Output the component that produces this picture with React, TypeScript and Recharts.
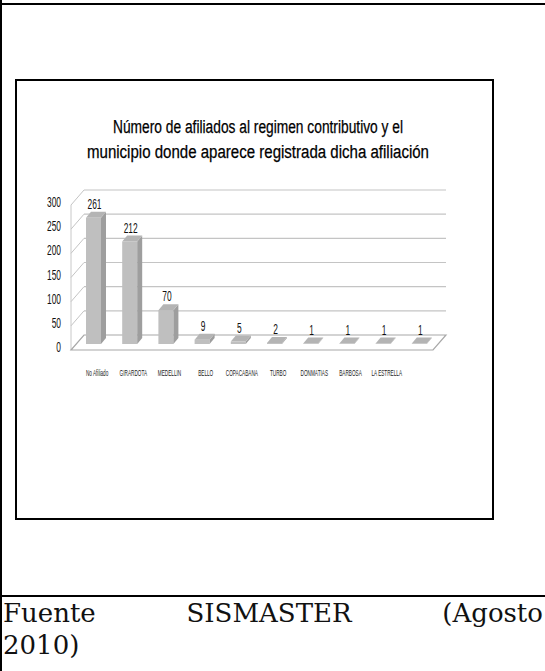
import React from 'react';
import { BarChart, Bar, XAxis, YAxis, CartesianGrid, LabelList } from 'recharts';

const categories = ['No Afiliado', 'GIRARDOTA', 'MEDELLIN', 'BELLO', 'COPACABANA', 'TURBO', 'DONMATIAS', 'BARBOSA', 'LA ESTRELLA', ''];
const afiliados = [261, 212, 70, 9, 5, 2, 1, 1, 1, 1];
const yTicks = [0, 50, 100, 150, 200, 250, 300];
const titleLines = [
  'Número de afiliados al regimen contributivo y el',
  'municipio donde aparece registrada dicha afiliación',
];
const footerWords = ['Fuente', 'SISMASTER', '(Agosto'];
const footerLine2 = '2010)';

const data = categories.map((c, i) => ({ municipio: c, afiliados: afiliados[i] }));

const CHART_W = 545;
const CHART_H = 600;
const PLOT_LEFT = 71;
const PLOT_TOP = 205;
const PLOT_BOTTOM = 350;
const PLOT_RIGHT = 433;
const Y_AXIS_W = 30;
const X_AXIS_H = 30;

const DX = 13; // wall depth
const DY = -15;
const BX = 4; // bar front offset
const BY = -6;
const BDX = 5; // bar depth
const BDY = -6;

const NARROW = '"Liberation Sans", Arial, sans-serif';

const GridLine = (props: any) => {
  const { x1, y1, x2, index } = props;
  const isFloor = Math.abs(y1 - PLOT_BOTTOM) < 0.5;
  if (isFloor) {
    return (
      <g key={`g-${index}`}>
        <line x1={x1} y1={PLOT_TOP} x2={x1} y2={PLOT_BOTTOM} stroke="#c8c8c8" strokeWidth={1} />
        <polygon
          points={`${x1},${y1} ${x2},${y1} ${x2 + DX},${y1 + DY} ${x1 + DX},${y1 + DY}`}
          fill="#ffffff"
          stroke="#a8a8a8"
          strokeWidth={1.2}
        />
      </g>
    );
  }
  return (
    <g key={`g-${index}`}>
      <line x1={x1} y1={y1} x2={x1 + DX} y2={y1 + DY} stroke="#c4c4c4" strokeWidth={1} />
      <line x1={x1 + DX} y1={y1 + DY} x2={x2 + DX} y2={y1 + DY} stroke="#c4c4c4" strokeWidth={1.2} />
    </g>
  );
};

const Bar3D = (props: any) => {
  const { x, y, width, height } = props;
  const h = Math.max(height, 0);
  const fx = x + BX;
  const fy = y + BY;
  const bottom = fy + h;
  return (
    <g>
      <rect x={fx} y={fy} width={width} height={h} fill="#bfbfbf" />
      <polygon
        points={`${fx + width},${fy} ${fx + width + BDX},${fy + BDY} ${fx + width + BDX},${bottom + BDY} ${fx + width},${bottom}`}
        fill="#9e9e9e"
      />
      <polygon
        points={`${fx},${fy} ${fx + BDX},${fy + BDY} ${fx + width + BDX},${fy + BDY} ${fx + width},${fy}`}
        fill="#b4b4b4"
      />
    </g>
  );
};

const ValueLabel = (props: any) => {
  const { x, y, width, value } = props;
  const cx = x + BX + width / 2 + 1;
  const by = y + BY - 9;
  return (
    <text
      transform={`translate(${cx},${by}) scale(0.6,1)`}
      textAnchor="middle"
      fontFamily={NARROW}
      fontSize={14}
      fill="#111"
    >
      {value}
    </text>
  );
};

const YTick = (props: any) => {
  const { y, payload } = props;
  return (
    <text
      transform={`translate(${PLOT_LEFT - 10},${y + 2}) scale(0.6,1)`}
      textAnchor="end"
      fontFamily={NARROW}
      fontSize={14}
      fill="#111"
    >
      {payload.value}
    </text>
  );
};

const XTick = (props: any) => {
  const { x, payload } = props;
  return (
    <text
      transform={`translate(${x + 8},${PLOT_BOTTOM + 26}) scale(0.52,1)`}
      textAnchor="middle"
      fontFamily={NARROW}
      fontSize={9}
      fill="#222"
    >
      {payload.value}
    </text>
  );
};

const box = (s: React.CSSProperties): React.CSSProperties => ({ position: 'absolute', background: '#000', ...s });

export default function App() {
  return (
    <div
      style={{
        position: 'absolute',
        left: 0,
        top: 0,
        width: 545,
        height: 671,
        overflow: 'hidden',
        background: '#fff',
      }}
    >
      <div style={box({ left: 0, top: 0, width: 2, height: 671 })} />
      <div style={box({ left: 0, top: 3, width: 545, height: 2 })} />
      <div style={box({ left: 0, top: 595, width: 545, height: 2 })} />
      <div
        style={{
          position: 'absolute',
          left: 15,
          top: 79,
          width: 479,
          height: 441,
          border: '2px solid #000',
          boxSizing: 'border-box',
        }}
      />
      <svg
        width={545}
        height={200}
        style={{ position: 'absolute', left: 0, top: 0 }}
      >
        <text
          x={258}
          y={133}
          textAnchor="middle"
          fontFamily={NARROW}
          fontSize={18}
          fill="#000"
          stroke="#000"
          strokeWidth={0.25}
          textLength={290}
          lengthAdjust="spacingAndGlyphs"
        >
          {titleLines[0]}
        </text>
        <text
          x={258}
          y={158}
          textAnchor="middle"
          fontFamily={NARROW}
          fontSize={18}
          fill="#000"
          stroke="#000"
          strokeWidth={0.25}
          textLength={342}
          lengthAdjust="spacingAndGlyphs"
        >
          {titleLines[1]}
        </text>
      </svg>
      <div style={{ position: 'absolute', left: 0, top: 0 }}>
        <BarChart
          width={CHART_W}
          height={CHART_H}
          data={data}
          margin={{
            top: PLOT_TOP,
            right: CHART_W - PLOT_RIGHT,
            left: PLOT_LEFT - Y_AXIS_W,
            bottom: CHART_H - PLOT_BOTTOM - X_AXIS_H,
          }}
        >
          <CartesianGrid vertical={false} horizontal={GridLine} />
          <XAxis
            dataKey="municipio"
            axisLine={false}
            tickLine={false}
            interval={0}
            height={X_AXIS_H}
            tick={<XTick />}
          />
          <YAxis
            domain={[0, 300]}
            ticks={yTicks}
            axisLine={false}
            tickLine={false}
            width={Y_AXIS_W}
            tick={<YTick />}
          />
          <Bar dataKey="afiliados" barSize={15} shape={<Bar3D />} isAnimationActive={false}>
            <LabelList dataKey="afiliados" content={<ValueLabel />} />
          </Bar>
        </BarChart>
      </div>
      <div
        style={{
          position: 'absolute',
          left: 3,
          top: 597,
          width: 540,
          fontFamily: '"DejaVu Serif", serif',
          fontSize: 26,
          lineHeight: '32px',
          color: '#111',
        }}
      >
        <div style={{ display: 'flex', justifyContent: 'space-between', width: 540, whiteSpace: 'nowrap' }}>
          {footerWords.map((w) => (
            <span key={w}>{w}</span>
          ))}
        </div>
        <div>{footerLine2}</div>
      </div>
    </div>
  );
}
